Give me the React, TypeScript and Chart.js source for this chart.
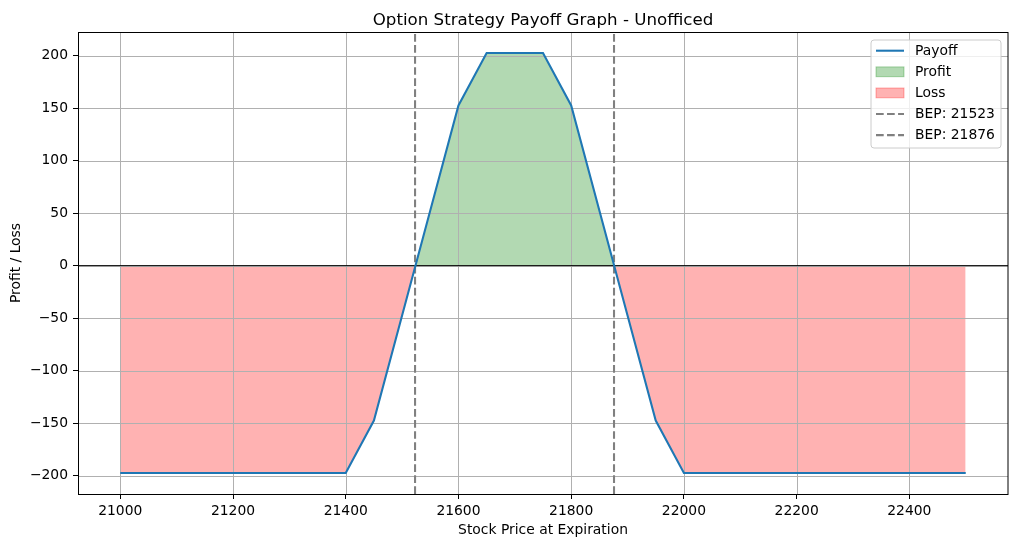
import React, { useEffect, useRef } from "react";
import { Chart, registerables } from "chart.js";

Chart.register(...registerables);

const prices = [
  21000, 21050, 21100, 21150, 21200, 21250, 21300, 21350, 21400, 21450,
  21500, 21550, 21600, 21650, 21700, 21750, 21800, 21850, 21900, 21950,
  22000, 22050, 22100, 22150, 22200, 22250, 22300, 22350, 22400, 22450, 22500,
];
const payoff = [
  -197.5, -197.5, -197.5, -197.5, -197.5, -197.5, -197.5, -197.5, -197.5, -147.5,
  -47.5, 52.5, 152.5, 202.5, 202.5, 202.5, 152.5, 52.5, -47.5, -147.5,
  -197.5, -197.5, -197.5, -197.5, -197.5, -197.5, -197.5, -197.5, -197.5, -197.5, -197.5,
];
const breakEvens = [21523, 21876];
const xTicks = [21000, 21200, 21400, 21600, 21800, 22000, 22200, 22400];
const yTicks = [-200, -150, -100, -50, 0, 50, 100, 150, 200];

const X_MIN = 20925;
const X_MAX = 22575;
const Y_MIN = -217.5;
const Y_MAX = 222.5;

const FONT = "DejaVu Sans";
const FS = 13.89;
const fmt = (v: number) => (v < 0 ? "\u2212" + Math.abs(v) : String(v));

export default function App() {
  const ref = useRef<HTMLCanvasElement | null>(null);

  useEffect(() => {
    if (!ref.current) return;
    const payoffData = prices.map((p, i) => ({ x: p, y: payoff[i] }));

    const decor = {
      id: "decor",
      beforeDatasetsDraw(chart: any) {
        // grid on top of fills (fills drawn by filler before this), below lines
        const ctx = chart.ctx;
        const a = chart.chartArea;
        const xs = chart.scales.x;
        const ys = chart.scales.y;
        ctx.save();
        ctx.strokeStyle = "#b0b0b0";
        ctx.lineWidth = 1;
        for (const v of xTicks) {
          const px = Math.round(xs.getPixelForValue(v)) + 0.5;
          ctx.beginPath();
          ctx.moveTo(px, a.top);
          ctx.lineTo(px, a.bottom);
          ctx.stroke();
        }
        for (const v of yTicks) {
          const py = Math.round(ys.getPixelForValue(v)) + 0.5;
          ctx.beginPath();
          ctx.moveTo(a.left, py);
          ctx.lineTo(a.right, py);
          ctx.stroke();
        }
        ctx.restore();
      },
      afterDatasetsDraw(chart: any) {
        const ctx = chart.ctx;
        const a = chart.chartArea;
        ctx.save();
        // frame
        ctx.strokeStyle = "#000";
        ctx.lineWidth = 1;
        ctx.strokeRect(Math.round(a.left) + 0.5, Math.round(a.top) + 0.5, Math.round(a.right - a.left) - 1 + 0.5, Math.round(a.bottom - a.top));
        // title
        ctx.fillStyle = "#000";
        ctx.font = `16.67px "${FONT}"`;
        ctx.textAlign = "center";
        ctx.textBaseline = "alphabetic";
        ctx.fillText("Option Strategy Payoff Graph - Unofficed", (a.left + a.right) / 2, 24.5);
        // x label
        ctx.font = `${FS}px "${FONT}"`;
        ctx.textBaseline = "middle";
        ctx.fillText("Stock Price at Expiration", (a.left + a.right) / 2, 530);
        // y label
        ctx.save();
        ctx.translate(16, (a.top + a.bottom) / 2);
        ctx.rotate(-Math.PI / 2);
        ctx.fillText("Profit / Loss", 0, 0);
        ctx.restore();

        // legend
        const lx = 871, ly = 40, lw = 130, lh = 108, r = 3;
        ctx.beginPath();
        ctx.moveTo(lx + r, ly);
        ctx.lineTo(lx + lw - r, ly);
        ctx.quadraticCurveTo(lx + lw, ly, lx + lw, ly + r);
        ctx.lineTo(lx + lw, ly + lh - r);
        ctx.quadraticCurveTo(lx + lw, ly + lh, lx + lw - r, ly + lh);
        ctx.lineTo(lx + r, ly + lh);
        ctx.quadraticCurveTo(lx, ly + lh, lx, ly + lh - r);
        ctx.lineTo(lx, ly + r);
        ctx.quadraticCurveTo(lx, ly, lx + r, ly);
        ctx.closePath();
        ctx.fillStyle = "rgba(255,255,255,0.8)";
        ctx.fill();
        ctx.strokeStyle = "#cccccc";
        ctx.lineWidth = 1;
        ctx.stroke();

        const rows = [50.7, 71.8, 92.9, 114, 135.1];
        const hx0 = 876, hx1 = 904, tx = 915;
        // Payoff
        ctx.strokeStyle = "#1f77b4";
        ctx.lineWidth = 2.08;
        ctx.beginPath();
        ctx.moveTo(hx0, rows[0]);
        ctx.lineTo(hx1, rows[0]);
        ctx.stroke();
        // Profit patch
        ctx.fillStyle = "rgba(0,128,0,0.3)";
        ctx.fillRect(hx0, rows[1] - 4.9, hx1 - hx0, 9.8);
        ctx.strokeStyle = "rgba(0,128,0,0.3)";
        ctx.lineWidth = 1;
        ctx.strokeRect(hx0, rows[1] - 4.9, hx1 - hx0, 9.8);
        // Loss patch
        ctx.fillStyle = "rgba(255,0,0,0.3)";
        ctx.fillRect(hx0, rows[2] - 4.9, hx1 - hx0, 9.8);
        ctx.strokeStyle = "rgba(255,0,0,0.3)";
        ctx.strokeRect(hx0, rows[2] - 4.9, hx1 - hx0, 9.8);
        // BEP dashes
        ctx.strokeStyle = "#808080";
        ctx.lineWidth = 2.08;
        ctx.setLineDash([7.7, 3.33]);
        for (const k of [3, 4]) {
          ctx.beginPath();
          ctx.moveTo(hx0, rows[k]);
          ctx.lineTo(hx1, rows[k]);
          ctx.stroke();
        }
        ctx.setLineDash([]);
        ctx.fillStyle = "#000";
        ctx.font = `${FS}px "${FONT}"`;
        ctx.textAlign = "left";
        ctx.textBaseline = "middle";
        const labels = ["Payoff", "Profit", "Loss", ...breakEvens.map((b) => `BEP: ${b}`)];
        labels.forEach((t, i) => ctx.fillText(t, tx, rows[i] + 0.5));
        ctx.restore();
      },
    };

    const chart = new Chart(ref.current, {
      type: "line",
      data: {
        datasets: [
          {
            label: "Payoff",
            data: payoffData,
            borderColor: "#1f77b4",
            borderWidth: 2.08,
            pointRadius: 0,
            tension: 0,
            fill: { target: { value: 0 }, above: "rgba(0,128,0,0.3)", below: "rgba(255,0,0,0.3)" },
            order: 0,
          } as any,
          ...breakEvens.map((b) => ({
            label: `BEP: ${b}`,
            data: [{ x: b, y: Y_MIN }, { x: b, y: Y_MAX }],
            borderColor: "#808080",
            borderWidth: 2.08,
            borderDash: [7.7, 3.33],
            pointRadius: 0,
            fill: false,
            order: 1,
          })),
          {
            label: "zero",
            data: [{ x: X_MIN, y: 0 }, { x: X_MAX, y: 0 }],
            borderColor: "#000",
            borderWidth: 1,
            pointRadius: 0,
            fill: false,
            order: 2,
          },
        ],
      },
      options: {
        animation: false,
        responsive: false,
        devicePixelRatio: 1,
        layout: { padding: { top: 32, right: 9, bottom: 0, left: 0 } },
        plugins: {
          legend: { display: false },
          title: { display: false },
          tooltip: { enabled: false },
          filler: { drawTime: "beforeDatasetsDraw" } as any,
        },
        scales: {
          x: {
            type: "linear",
            min: X_MIN,
            max: X_MAX,
            afterBuildTicks: (s: any) => { s.ticks = xTicks.map((v) => ({ value: v })); },
            afterFit: (s: any) => { s.height = 53; },
            grid: { drawOnChartArea: false, color: "#000", lineWidth: 1, tickLength: 5, tickColor: "#000", drawTicks: true },
            border: { display: false },
            ticks: {
              autoSkip: false,
              maxRotation: 0,
              padding: 4,
              color: "#000",
              font: { family: FONT, size: FS },
              callback: (v: any) => fmt(Number(v)),
            },
          },
          y: {
            type: "linear",
            min: Y_MIN,
            max: Y_MAX,
            afterBuildTicks: (s: any) => { s.ticks = yTicks.map((v) => ({ value: v })); },
            afterFit: (s: any) => { s.width = 78; },
            grid: { drawOnChartArea: false, color: "#000", lineWidth: 1, tickLength: 5, tickColor: "#000", drawTicks: true },
            border: { display: false },
            ticks: {
              padding: 5,
              color: "#000",
              font: { family: FONT, size: FS },
              callback: (v: any) => fmt(Number(v)),
            },
          },
        },
      },
      plugins: [decor],
    });
    return () => chart.destroy();
  }, []);

  return (
    <div style={{ position: "fixed", left: 0, top: 0, width: 1017, height: 547, background: "#fff" }}>
      <canvas ref={ref} width={1017} height={547} style={{ display: "block" }} />
    </div>
  );
}
